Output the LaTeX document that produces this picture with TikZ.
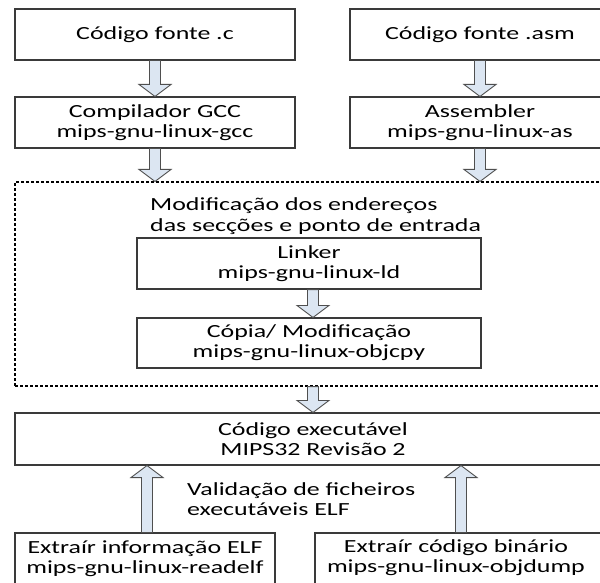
\documentclass[tikz,border=0pt]{standalone}
\usepackage{fontspec}
\setmainfont{Carlito}[FakeStretch=1.4]
\usetikzlibrary{calc}

\definecolor{edge}{HTML}{3A3A3A}
\definecolor{arrowfill}{HTML}{DCE6F2}
\definecolor{arrowedge}{HTML}{4F4F4F}

\tikzset{
  stagebox/.style={draw=edge, line width=1.1pt, fill=white, inner sep=0pt,
    align=center, font=\fontsize{18.5}{20}\selectfont},
  groupbox/.style={draw=black, line width=1.1pt, dash pattern=on 3pt off 2pt,
    inner sep=0pt},
  note/.style={align=left, inner sep=0pt, font=\fontsize{18.5}{20.5}\selectfont},
  blockarrow/.style={draw=arrowedge, fill=arrowfill, line width=0.9pt, line join=miter},
}

% Text block set left of its box centre by half of #1
\newcommand\offcentre[2]{\begin{tabular}{@{}c@{}}#2\end{tabular}\hspace*{#1}}

% Hollow block arrow from #1 (tail) to #2 (tip), vertical
\newcommand\blockarrow[2]{%
  \draw[blockarrow] let \p1=#1, \p2=#2, \n1={ifthenelse(\y2>\y1,1,-1)} in
    (\x1-5.5pt,\y1) -- (\x1-5.5pt,{\y2-\n1*12pt}) -- (\x1-16pt,{\y2-\n1*12pt})
    -- (\x1,\y2) -- (\x1+16pt,{\y2-\n1*12pt}) -- (\x1+5.5pt,{\y2-\n1*12pt})
    -- (\x1+5.5pt,\y1) -- cycle;}

\begin{document}
\begin{tikzpicture}[x=1pt,y=-1pt]
\useasboundingbox (0,0) rectangle (600,583);
\clip (0,0) rectangle (600,583);

% source files and their translators
\node[stagebox, minimum width=280, minimum height=51] (srcc) at (155,34.5) {Código fonte .c};
\node[stagebox, minimum width=260, minimum height=51] (srcasm) at (480,34.5) {Código fonte .asm};
\node[stagebox, minimum width=280, minimum height=51] (gcc) at (155,122.5) {Compilador GCC\\mips-gnu-linux-gcc};
\node[stagebox, minimum width=260, minimum height=51] (as) at (480,122.5) {Assembler\\mips-gnu-linux-as};

% link stage group
\node[groupbox, minimum width=600, minimum height=204] (group) at (315,284) {};
\node[note, anchor=west] (grouptitle) at (150,216) {Modificação dos endereços\\das secções e ponto de entrada};
\node[stagebox, minimum width=344, minimum height=51] (ld) at (309,263.5) {Linker\\mips-gnu-linux-ld};
\node[stagebox, minimum width=344, minimum height=50] (objcpy) at (309,343) {Cópia/ Modificação\\mips-gnu-linux-objcpy};

% executable and inspection tools
\node[stagebox, minimum width=596, minimum height=52] (exec) at (313,439) {Código executável\\MIPS32 Revisão 2};
\node[note, anchor=west] (validtitle) at (187,499) {Validação de ficheiros\\executáveis ELF};
\node[stagebox, minimum width=260, minimum height=51] (readelf) at (145,558.5) {Extraír informação ELF\\mips-gnu-linux-readelf};
\node[stagebox, minimum width=290, minimum height=51] (objdump) at (460,558.5) {\offcentre{8pt}{Extraír código binário\\mips-gnu-linux-objdump}};

% arrow axes
\coordinate (axc) at (155,0);
\coordinate (axasm) at (480,0);
\coordinate (axlink) at (313,0);
\coordinate (axread) at (147,0);
\coordinate (axdump) at (461,0);

\blockarrow{(srcc.south -| axc)}{(gcc.north -| axc)}
\blockarrow{(srcasm.south -| axasm)}{(as.north -| axasm)}
\blockarrow{(gcc.south -| axc)}{(group.north -| axc)}
\blockarrow{(as.south -| axasm)}{(group.north -| axasm)}
\blockarrow{(ld.south -| axlink)}{(objcpy.north -| axlink)}
\blockarrow{(group.south -| axlink)}{(exec.north -| axlink)}
\blockarrow{(readelf.north -| axread)}{(exec.south -| axread)}
\blockarrow{(objdump.north -| axdump)}{(exec.south -| axdump)}
\end{tikzpicture}
\end{document}
